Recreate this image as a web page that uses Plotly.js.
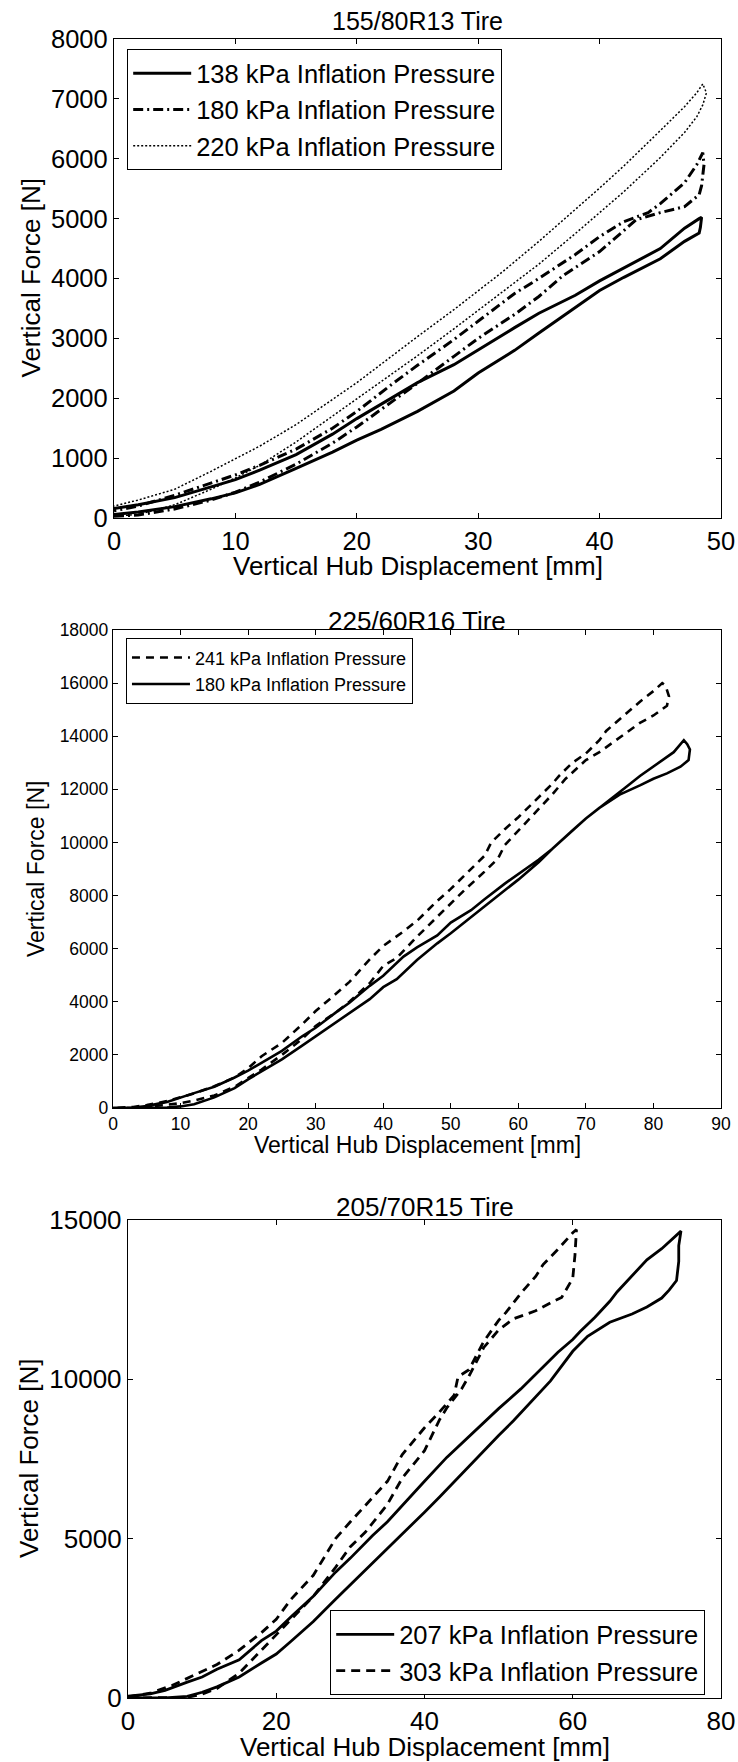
<!DOCTYPE html>
<html>
<head>
<meta charset="utf-8">
<script src="https://cdn.plot.ly/plotly-3.0.1.min.js"></script>
<style>
  html, body { margin: 0; padding: 0; background: #fff; }
  body { width: 738px; height: 1762px; position: relative; overflow: hidden; }
  .pl { position: absolute; left: 0; width: 738px; }
</style>
</head>
<body>
<div id="p1" class="pl" style="top:0px;height:590px;"></div>
<div id="p2" class="pl" style="top:590px;height:570px;"></div>
<div id="p3" class="pl" style="top:1160px;height:602px;"></div>
<script>
// ---------- Chart 1: 155/80R13 Tire ----------
const p1Title = "155/80R13 Tire";
const p1Names = ["138 kPa Inflation Pressure", "180 kPa Inflation Pressure", "220 kPa Inflation Pressure"];
const p1X138 = [0, 2, 5, 8, 10, 12, 15, 18, 20, 22, 25, 28, 30, 33, 35, 38, 40, 42, 45, 47, 48.2, 48.3, 48.4,
                48.2, 47, 45, 43, 40, 38, 35, 33, 30, 28, 25, 22, 20, 18, 15, 12, 10, 8, 5, 2, 0];
const p1Y138 = [60, 100, 190, 320, 420, 560, 830, 1100, 1300, 1480, 1780, 2120, 2420, 2800, 3090, 3520, 3800, 4020, 4330, 4620, 4760, 4850, 5020,
                5000, 4840, 4500, 4280, 3960, 3720, 3420, 3180, 2800, 2560, 2260, 1900, 1660, 1400, 1060, 800, 640, 520, 340, 220, 160];
const p1X180 = [0, 2, 5, 8, 10, 12, 15, 18, 20, 23, 25, 28, 30, 33, 35, 37, 40, 42, 43, 45, 47, 48.2, 48.4, 48.6, 48.5,
                48, 47, 45, 44, 42, 40, 38, 35, 33, 30, 28, 25, 23, 20, 18, 15, 12, 10, 8, 5, 2, 0];
const p1Y180 = [30, 50, 150, 300, 430, 600, 900, 1250, 1520, 1950, 2250, 2700, 3000, 3400, 3700, 4050, 4450, 4800, 4980, 5100, 5200, 5400, 5550, 5900, 6100,
                5900, 5600, 5250, 5100, 4950, 4700, 4400, 4000, 3750, 3280, 2980, 2550, 2250, 1780, 1500, 1150, 880, 720, 580, 380, 200, 120];
const p1X220 = [0, 2, 5, 8, 10, 12, 15, 18, 20, 22, 25, 28, 30, 32, 35, 38, 40, 42, 45, 47, 48, 48.5, 48.8, 48.5,
                48, 47, 45, 42, 40, 38, 35, 32, 30, 28, 25, 22, 20, 18, 15, 12, 10, 8, 5, 2, 0];
const p1Y220 = [30, 60, 220, 480, 670, 880, 1270, 1700, 1980, 2270, 2710, 3160, 3470, 3780, 4240, 4750, 5100, 5450, 6020, 6440, 6700, 6900, 7100, 7250,
                7100, 6870, 6470, 5880, 5510, 5150, 4620, 4110, 3790, 3480, 3030, 2560, 2260, 1980, 1560, 1200, 990, 780, 480, 300, 200];

// ---------- Chart 2: 225/60R16 Tire ----------
const p2Title = "225/60R16 Tire";
const p2Names = ["241 kPa Inflation Pressure", "180 kPa Inflation Pressure"];
const p2X241 = [0, 3, 5, 8, 10, 12, 15, 18, 20, 22, 25, 28, 30, 33, 35, 38, 40, 42, 45, 48, 50, 52, 55, 57, 58, 60, 62, 65, 67, 70, 72, 75, 78, 80, 82, 82.3, 81.8, 81.3,
                80, 78, 75, 73, 72, 70, 68, 66, 65, 63, 60, 58, 56, 55, 53, 50, 48, 45, 43, 40, 38, 35, 33, 30, 28, 25, 22, 20, 18, 15, 12, 10, 8, 5, 3, 0];
const p2Y241 = [0, 0, 40, 120, 180, 280, 470, 800, 1140, 1450, 2000, 2600, 3090, 3600, 4000, 4700, 5350, 5650, 6450, 7200, 7700, 8200, 8900, 9400, 9900, 10450, 11000, 11800, 12400, 13100, 13400, 13950, 14500, 14780, 15150, 15500, 15900, 16000,
                15700, 15300, 14650, 14200, 13850, 13350, 13000, 12500, 12200, 11700, 10950, 10500, 10000, 9500, 9000, 8250, 7800, 7050, 6650, 6100, 5600, 4750, 4300, 3650, 3150, 2450, 1950, 1500, 1150, 820, 550, 400, 260, 110, 40, 0];
const p2X180 = [0, 5, 8, 10, 12, 15, 18, 20, 22, 25, 28, 30, 33, 35, 38, 40, 42, 45, 48, 50, 53, 55, 58, 60, 63, 65, 67, 70, 72, 75, 78, 80, 82, 84, 85.2, 85.4, 85, 84.5,
                83, 81, 80, 78, 76, 74, 72, 70, 68, 66, 65, 63, 60, 58, 55, 53, 50, 48, 45, 43, 40, 38, 35, 33, 30, 28, 25, 22, 20, 18, 15, 12, 10, 8, 5, 3, 0];
const p2Y180 = [0, 0, 20, 60, 140, 400, 750, 1080, 1370, 1830, 2350, 2700, 3200, 3560, 4100, 4550, 4850, 5570, 6200, 6580, 7200, 7600, 8200, 8600, 9250, 9750, 10200, 10900, 11300, 11800, 12150, 12400, 12600, 12850, 13100, 13500, 13700, 13850,
                13400, 13050, 12850, 12500, 12100, 11700, 11300, 10900, 10450, 10000, 9750, 9350, 8800, 8450, 7860, 7450, 6980, 6500, 6050, 5700, 4980, 4600, 3960, 3600, 3020, 2700, 2150, 1700, 1410, 1150, 800, 560, 400, 230, 70, 20, 0];

// ---------- Chart 3: 205/70R15 Tire ----------
const p3Title = "205/70R15 Tire";
const p3Names = ["207 kPa Inflation Pressure", "303 kPa Inflation Pressure"];
const p3X207 = [0, 3, 5, 8, 10, 12, 15, 18, 20, 22, 25, 28, 30, 32, 35, 38, 40, 42, 45, 48, 50, 52, 55, 57, 60, 62, 65, 68, 70, 72, 73, 74, 74.3, 74.3, 74.6,
                73, 72, 70, 68, 66, 65, 63, 61, 60, 58, 55, 53, 50, 48, 45, 43, 40, 38, 35, 33, 30, 28, 25, 22, 20, 18, 17, 15, 12, 10, 8, 5, 3, 0];
const p3Y207 = [0, 0, 0, 50, 180, 350, 660, 1100, 1380, 1780, 2400, 3100, 3550, 4000, 4690, 5350, 5830, 6300, 7040, 7750, 8240, 8700, 9440, 9950, 10880, 11350, 11790, 12050, 12270, 12550, 12800, 13100, 13700, 14200, 14650,
                14300, 14100, 13750, 13250, 12750, 12450, 11950, 11500, 11250, 10850, 10170, 9700, 9080, 8650, 8000, 7550, 6800, 6300, 5530, 5100, 4390, 3950, 3190, 2550, 2100, 1800, 1600, 1200, 900, 660, 500, 240, 130, 60];
const p3X303 = [0, 5, 8, 10, 12, 15, 18, 20, 22, 25, 28, 30, 32, 35, 37, 40, 42, 43, 45, 46, 48, 50, 52, 55, 57, 58.5, 60, 60.3, 60.5,
                60, 58, 56, 55, 53, 51, 50, 48, 46, 45, 44.5, 44, 42, 40, 38, 37, 35, 33, 30, 28, 25, 22, 20, 18, 15, 12, 9, 6, 3, 0];
const p3Y303 = [0, 0, 20, 120, 300, 780, 1500, 1980, 2450, 3190, 4100, 4750, 5200, 6080, 6900, 7760, 8720, 9100, 9700, 10100, 11000, 11550, 11900, 12150, 12400, 12570, 13170, 13900, 14700,
                14600, 14080, 13600, 13230, 12700, 12100, 11850, 11190, 10300, 10150, 10050, 9500, 8970, 8480, 7900, 7640, 6800, 6300, 5530, 5000, 3850, 3100, 2470, 2050, 1500, 1050, 720, 400, 150, 30];

// ---------- axis labels ----------
const xLabel = "Vertical Hub Displacement [mm]";
const yLabel = "Vertical Force [N]";

const FONT = "Liberation Sans, Arial, Helvetica, sans-serif";

function axisStyle(range, dtick, size) {
  return {
    range: range, dtick: dtick, tick0: 0, autorange: false, tickformat: "d",
    showgrid: false, zeroline: false,
    showline: true, linecolor: "#000", linewidth: 1.2, mirror: "allticks",
    ticks: "inside", ticklen: 5, tickwidth: 1, tickcolor: "#000",
    tickfont: {family: FONT, size: size, color: "#000"},
    fixedrange: true
  };
}

function annots(title, tsize, tshift, xt, xsize, xshift, ysize, yshift) {
  return [
    {text: title, xref: "paper", yref: "paper", x: 0.5, y: 1, xanchor: "center", yanchor: "middle",
     yshift: tshift, showarrow: false, font: {family: FONT, size: tsize, color: "#000"}},
    {text: xt, xref: "paper", yref: "paper", x: 0.5, y: 0, xanchor: "center", yanchor: "middle",
     yshift: xshift, showarrow: false, font: {family: FONT, size: xsize, color: "#000"}},
    {text: yLabel, xref: "paper", yref: "paper", x: 0, y: 0.5, xanchor: "center", yanchor: "middle",
     xshift: yshift, textangle: -90, showarrow: false, font: {family: FONT, size: ysize, color: "#000"}}
  ];
}

const config = {staticPlot: true, displayModeBar: false};

// Chart 1
Plotly.newPlot("p1", [
  {x: p1X138, y: p1Y138, name: p1Names[0], mode: "lines", line: {color: "#000", width: 3, dash: "solid"}},
  {x: p1X180, y: p1Y180, name: p1Names[1], mode: "lines", line: {color: "#000", width: 3, dash: "10px,4px,2px,4px"}},
  {x: p1X220, y: p1Y220, name: p1Names[2], mode: "lines", line: {color: "#000", width: 1.5, dash: "2px,2px"}}
], {
  width: 738, height: 590,
  margin: {l: 114, r: 17, t: 39, b: 72, pad: 0},
  paper_bgcolor: "#fff", plot_bgcolor: "#fff",
  font: {family: FONT, color: "#000"},
  xaxis: axisStyle([0, 50], 10, 25.5),
  yaxis: axisStyle([0, 8000], 1000, 25.5),
  showlegend: true,
  legend: {x: 0.0214, y: 0.979, xanchor: "left", yanchor: "top", bgcolor: "#fff",
           bordercolor: "#000", borderwidth: 1.2, font: {family: FONT, size: 25.5, color: "#000"},
           itemwidth: 58, tracegroupgap: 0},
  annotations: annots(p1Title, 25, 18.5, xLabel, 26, -48, 26, -84)
}, config);

// Chart 2
Plotly.newPlot("p2", [
  {x: p2X241, y: p2Y241, name: p2Names[0], mode: "lines", line: {color: "#000", width: 2.6, dash: "8px,6px"}},
  {x: p2X180, y: p2Y180, name: p2Names[1], mode: "lines", line: {color: "#000", width: 2.6, dash: "solid"}}
], {
  width: 738, height: 570,
  margin: {l: 113, r: 17, t: 40, b: 52, pad: 0},
  paper_bgcolor: "#fff", plot_bgcolor: "#fff",
  font: {family: FONT, color: "#000"},
  xaxis: axisStyle([0, 90], 10, 17.5),
  yaxis: axisStyle([0, 18000], 2000, 17.5),
  showlegend: true,
  legend: {x: 0.021, y: 0.983, xanchor: "left", yanchor: "top", bgcolor: "#fff",
           bordercolor: "#000", borderwidth: 1.2, font: {family: FONT, size: 18, color: "#000"},
           itemwidth: 58, tracegroupgap: 0},
  annotations: annots(p2Title, 26, 9, xLabel, 23, -37, 23, -77)
}, config);

// Chart 3
Plotly.newPlot("p3", [
  {x: p3X207, y: p3Y207, name: p3Names[0], mode: "lines", line: {color: "#000", width: 2.8, dash: "solid"}},
  {x: p3X303, y: p3Y303, name: p3Names[1], mode: "lines", line: {color: "#000", width: 2.8, dash: "9px,6px"}}
], {
  width: 738, height: 602,
  margin: {l: 128, r: 17, t: 60, b: 64, pad: 0},
  paper_bgcolor: "#fff", plot_bgcolor: "#fff",
  font: {family: FONT, color: "#000"},
  xaxis: axisStyle([0, 80], 20, 26),
  yaxis: axisStyle([0, 15000], 5000, 26),
  showlegend: true,
  legend: {x: 0.973, y: 0.006, xanchor: "right", yanchor: "bottom", bgcolor: "#fff",
           bordercolor: "#000", borderwidth: 1.2, font: {family: FONT, size: 25.5, color: "#000"},
           itemwidth: 58, tracegroupgap: 0},
  annotations: annots(p3Title, 26, 13, xLabel, 26, -49, 26, -99)
}, config);
</script>
</body>
</html>
